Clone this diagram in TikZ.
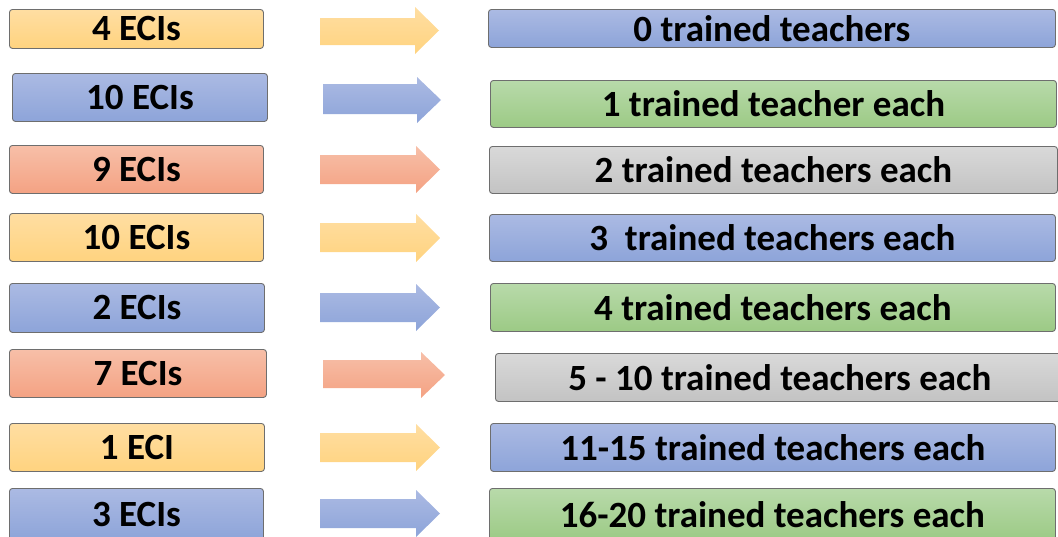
\documentclass[tikz,border=0pt]{standalone}
\usepackage{fontspec}
\setmainfont{Carlito}
\definecolor{yT}{HTML}{FFDEA2}\definecolor{yB}{HTML}{FFD37F}
\definecolor{bT}{HTML}{ABBAE3}\definecolor{bB}{HTML}{8DA4D9}
\definecolor{gT}{HTML}{B8DAAA}\definecolor{gB}{HTML}{9CCA85}
\definecolor{sT}{HTML}{F7BFA8}\definecolor{sB}{HTML}{F4A283}
\definecolor{rT}{HTML}{D9D9D9}\definecolor{rB}{HTML}{C3C3C3}
\definecolor{edge}{HTML}{6E6E6E}
\tikzset{
  box/.style={draw=edge, line width=0.9pt, rounded corners=3pt, inner sep=0pt,
    font=\fontsize{37}{40}\selectfont\bfseries, text=black, anchor=north west},
  yel/.style={top color=yT, bottom color=yB},
  blu/.style={top color=bT, bottom color=bB},
  grn/.style={top color=gT, bottom color=gB},
  sal/.style={top color=sT, bottom color=sB},
  gry/.style={top color=rT, bottom color=rB},
}
% block arrow: x0, shaft top, shaft bottom, head top, head bottom, head base x, tip x, style
\newcommand\blockarrow[8]{%
  \path[#8] (#1,#2) -- (#6,#2) -- (#6,#4) -- (#7,{(#4+#5)/2}) -- (#6,#5) -- (#6,#3) -- (#1,#3) -- cycle;}
\newcommand\lbox[7]{% name, x0, y0, x1, y1, style, text
  \node[box,#6, minimum width={#4-#2}, minimum height={#5-#3}] (#1) at (#2,#3) {#7};}
\begin{document}
\begin{tikzpicture}[x=1pt,y=-1pt]
\useasboundingbox (0,0) rectangle (1058,536);
\clip (0,0) rectangle (1058,536);
% row 1
\lbox{l1}{9}{9}{263}{48}{yel}{4 ECIs}
\blockarrow{320}{18}{45}{7}{54}{415}{439}{yel}
\lbox{r1}{488}{9}{1055}{47}{blu}{0 trained teachers}
% row 2
\lbox{l2}{12}{73}{267}{121}{blu}{10 ECIs}
\blockarrow{323}{84}{114}{77}{123}{417}{441}{blu}
\lbox{r2}{490}{80}{1056}{127}{grn}{1 trained teacher each}
% row 3
\lbox{l3}{9}{145}{263}{193}{sal}{9 ECIs}
\blockarrow{320}{155}{184}{146}{193}{416}{440}{sal}
\lbox{r3}{489}{146}{1057}{193}{gry}{2 trained teachers each}
% row 4
\lbox{l4}{9}{213}{263}{261}{yel}{10 ECIs}
\blockarrow{320}{223}{252}{214}{262}{416}{440}{yel}
\lbox{r4}{489}{214}{1055}{261}{blu}{3\ \ trained teachers each}
% row 5
\lbox{l5}{9}{283}{264}{332}{blu}{2 ECIs}
\blockarrow{320}{293}{322}{284}{331}{416}{440}{blu}
\lbox{r5}{490}{283}{1055}{331}{grn}{4 trained teachers each}
% row 6
\lbox{l6}{9}{349}{266}{397}{sal}{7 ECIs}
\blockarrow{323}{360}{388}{352}{398}{421}{445}{sal}
\lbox{r6}{495}{353}{1064}{401}{gry}{5 - 10 trained teachers each}
% row 7
\lbox{l7}{9}{423}{264}{471}{yel}{1 ECI}
\blockarrow{320}{433}{462}{424}{471}{416}{440}{yel}
\lbox{r7}{490}{423}{1055}{471}{blu}{11-15 trained teachers each}
% row 8
\lbox{l8}{9}{488}{263}{540}{blu}{3 ECIs}
\blockarrow{320}{499}{528}{490}{537}{416}{440}{blu}
\lbox{r8}{489}{488}{1055}{540}{grn}{16-20 trained teachers each}
\end{tikzpicture}
\end{document}
